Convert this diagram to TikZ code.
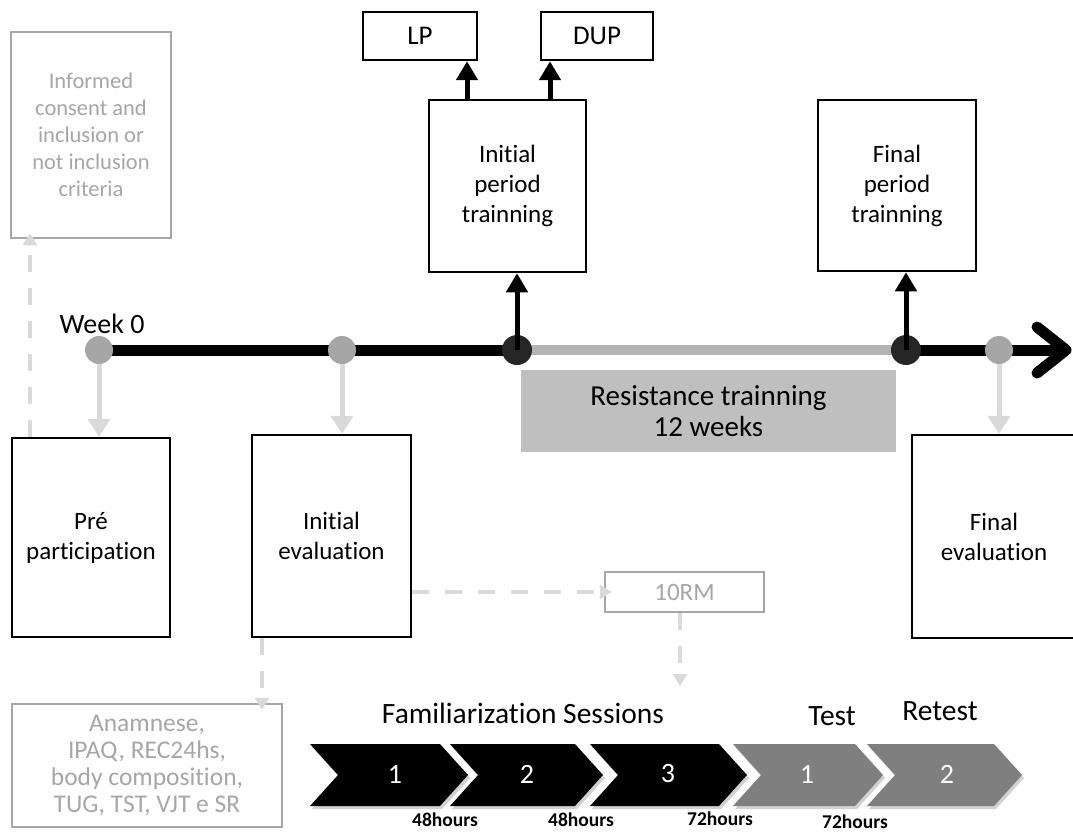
\documentclass[tikz,border=0pt]{standalone}
\usepackage{fontspec}
\setmainfont{Carlito}[Ligatures=NoCommon]
\usetikzlibrary{arrows.meta}
\definecolor{boxgray}{HTML}{A6A6A6}
\definecolor{txtgray}{HTML}{A6A6A6}
\definecolor{lgray}{HTML}{D9D9D9}
\definecolor{midgray}{HTML}{B3B3B3}
\definecolor{resgray}{HTML}{BFBFBF}
\definecolor{darkdot}{HTML}{262626}
\definecolor{chevgray}{HTML}{7F7F7F}
\tikzset{
  bbox/.style={draw=black, line width=2.5pt, inner sep=0pt, align=center, font=\fontsize{25}{30}\selectfont},
  gbox/.style={draw=boxgray, line width=2.5pt, inner sep=0pt, align=center, text=txtgray, font=\fontsize{22.5}{27}\selectfont},
  dasharrow/.style={draw=lgray, line width=4.5pt, dash pattern=on 17pt off 16pt, -{Triangle[width=14pt,length=12pt]}},
  grayarrow/.style={draw=lgray, line width=5pt, -{Triangle[width=22pt,length=18pt]}},
  blkarrow/.style={draw=black, line width=5pt, -{Triangle[width=21pt,length=19pt]}},
  gdot/.style={circle, fill=boxgray, minimum size=28pt, inner sep=0pt},
  ddot/.style={circle, fill=darkdot, minimum size=30pt, inner sep=0pt},
  chevnum/.style={text=white, font=\fontsize{28}{32}\selectfont},
  hours/.style={font=\fontsize{19.5}{22}\bfseries\selectfont},
  biglabel/.style={font=\fontsize{29.5}{34}\selectfont},
}
\begin{document}
\begin{tikzpicture}[x=1pt,y=-1pt]
\useasboundingbox (0,0) rectangle (1073,832);
\clip (0,0) rectangle (1073,832);

% boxes
\node[gbox, minimum width=160pt, minimum height=206pt] (consent) at (91,135) {Informed\\consent and\\inclusion or\\not inclusion\\criteria};
\node[bbox, minimum width=114pt, minimum height=48pt, font=\fontsize{27}{30}\selectfont] (lp) at (420,36) {LP};
\node[bbox, minimum width=112pt, minimum height=48pt, font=\fontsize{27}{30}\selectfont] (dup) at (597,36) {DUP};
\node[bbox, minimum width=157pt, minimum height=172pt] (initp) at (507.5,186) {Initial\\period\\trainning};
\node[bbox, minimum width=158pt, minimum height=171pt] (finalp) at (897,185.5) {Final\\period\\trainning};
\node[fill=resgray, minimum width=375pt, minimum height=82pt, inner sep=0pt, align=center, font=\fontsize{29}{31}\selectfont] (resist) at (708.5,411) {Resistance trainning\\12 weeks};
\node[bbox, minimum width=158pt, minimum height=199pt] (pre) at (91,537.5) {Pré\\participation};
\node[bbox, minimum width=159pt, minimum height=202pt] (inite) at (331.5,536) {Initial\\evaluation};
\node[bbox, minimum width=164pt, minimum height=203pt] (finale) at (994,536.5) {Final\\evaluation};
\node[gbox, minimum width=159pt, minimum height=40pt, font=\fontsize{25}{28}\selectfont] (rm) at (684.5,592) {10RM};
\node[gbox, minimum width=270pt, minimum height=123pt, font=\fontsize{25.5}{27}\selectfont] (anam) at (147,765.5) {Anamnese,\\IPAQ, REC24hs,\\body composition,\\TUG, TST, VJT e SR};

% timeline
\coordinate (c1) at (99,350);
\coordinate (c2) at (342,350);
\coordinate (c3) at (517,350);
\coordinate (c4) at (906,350);
\coordinate (c5) at (999,350);
\coordinate (tip) at (1066,350);
\coordinate (headtop) at (1037,327);
\coordinate (headbot) at (1037,373);
\draw[line width=11pt, black] (c1) -- (c3);
\draw[line width=10pt, midgray] (c3) -- (c4);
\draw[line width=11pt, black] (c4) -- (tip);
\draw[line width=11pt, black, line cap=round, line join=round] (headtop) -- (tip) -- (headbot);
\node[gdot] (d1) at (c1) {};
\node[gdot] (d2) at (c2) {};
\node[ddot] (d3) at (c3) {};
\node[ddot] (d4) at (c4) {};
\node[gdot] (d5) at (c5) {};
\node[font=\fontsize{28}{32}\selectfont] (week) at (102,324) {Week 0};

% black arrows up
\draw[blkarrow] (d3.center) -- (d3.center |- initp.south);
\draw[blkarrow] (d4.center) -- (d4.center |- finalp.south);
\coordinate (lpx) at (467,0);
\coordinate (dupx) at (550,0);
\draw[blkarrow] (initp.north -| lpx) -- (lp.south -| lpx);
\draw[blkarrow] (initp.north -| dupx) -- (dup.south -| dupx);

% gray arrows down
\draw[grayarrow] (d1.south) -- (d1.south |- pre.north);
\draw[grayarrow] (d2.south) -- (d2.south |- inite.north);
\draw[grayarrow] (d5.south) -- (d5.south |- finale.north);

% dashed arrows
\coordinate (cx) at (30,0);
\draw[dasharrow, shorten >=-6pt] (pre.north -| cx) -- (consent.south -| cx);
\draw[dasharrow, shorten >=-8pt] (inite.east |- rm.west) -- (rm.west);
\coordinate (rmend) at (680,686);
\draw[dasharrow] (rm.south -| rmend) -- (rmend);
\coordinate (ax) at (262,0);
\draw[dasharrow, shorten >=-7pt] (inite.south -| ax) -- (anam.north -| ax);

% chevrons
\foreach \L/\W/\col/\num/\nx/\nm in {310/158/black/1/395/ch1, 450/153/black/2/527/ch2, 590/157/black/3/668/ch3, 733/150/chevgray/1/807/ch4, 867/155/chevgray/2/947/ch5}{
  \fill[black, opacity=0.18] (\L+2,747) -- (\L+\W-28+2,747) -- (\L+\W+2,778) -- (\L+\W-28+2,809) -- (\L+2,809) -- (\L+28+2,778) -- cycle;
  \fill[\col] (\L,744) -- (\L+\W-28,744) -- (\L+\W,775) -- (\L+\W-28,806) -- (\L,806) -- (\L+28,775) -- cycle;
  \node[chevnum] (\nm) at (\nx,774) {\num};
}
\node[biglabel] (fam) at (523,713) {Familiarization Sessions};
\node[biglabel] (test) at (832,716) {Test};
\node[biglabel] (retest) at (940,711) {Retest};
\node[hours] (h1) at (445,820) {48hours};
\node[hours] (h2) at (581,820) {48hours};
\node[hours] (h3) at (720,819) {72hours};
\node[hours] (h4) at (855,822) {72hours};
\end{tikzpicture}
\end{document}
